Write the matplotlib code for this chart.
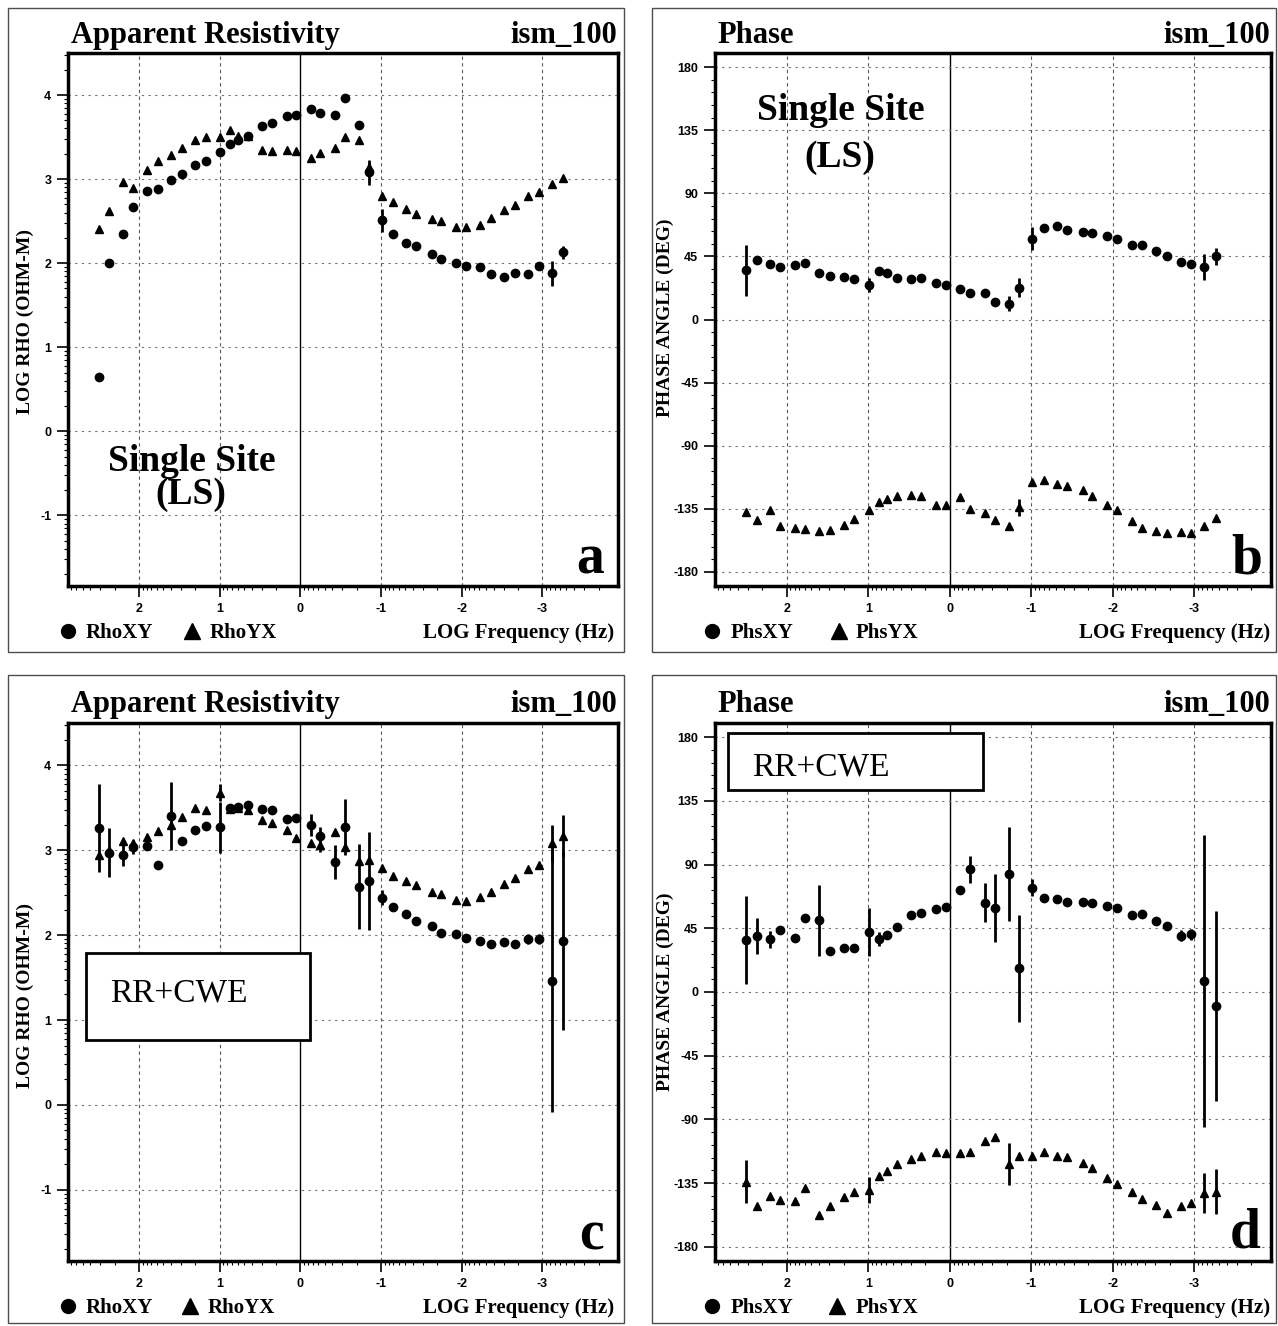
import numpy as np
import matplotlib.pyplot as plt
from matplotlib.lines import Line2D
from matplotlib.patches import Rectangle

plt.rcParams['axes.unicode_minus'] = False

W, H = 1278, 1326

# log10 frequency (Hz) of every estimate, high to low
freq = [2.50, 2.37, 2.20, 2.08, 1.90, 1.77, 1.60, 1.47, 1.30, 1.17,
        0.99, 0.87, 0.77, 0.65, 0.47, 0.35, 0.17, 0.05, -0.13, -0.25,
        -0.43, -0.56, -0.73, -0.85, -1.01, -1.15, -1.31, -1.44, -1.63, -1.75,
        -1.93, -2.05, -2.23, -2.36, -2.53, -2.66, -2.83, -2.96, -3.12, -3.26]

# single site (LS) - log apparent resistivity
ls_rhoxy = [0.65, 2.00, 2.35, 2.67, 2.86, 2.88, 2.99, 3.06, 3.17, 3.22,
            3.32, 3.42, 3.47, 3.51, 3.63, 3.67, 3.75, 3.76, 3.83, 3.79,
            3.76, 3.97, 3.64, 3.08, 2.51, 2.35, 2.24, 2.20, 2.11, 2.05,
            2.00, 1.97, 1.95, 1.87, 1.83, 1.88, 1.87, 1.97, 1.88, 2.13]
ls_rhoxy_err = [0, 0, 0, 0, 0, 0, 0, 0, 0, 0,
                0, 0, 0, 0, 0, 0, 0, 0, 0, 0,
                0, 0, 0, 0.15, 0.14, 0, 0, 0, 0, 0,
                0, 0, 0, 0, 0, 0, 0, 0, 0.15, 0.08]
ls_rhoyx = [2.41, 2.62, 2.96, 2.89, 3.11, 3.21, 3.29, 3.37, 3.46, 3.50,
            3.50, 3.58, 3.51, 3.51, 3.35, 3.33, 3.35, 3.33, 3.25, 3.31,
            3.37, 3.50, 3.47, 3.14, 2.80, 2.73, 2.65, 2.58, 2.52, 2.50,
            2.43, 2.43, 2.46, 2.54, 2.63, 2.69, 2.80, 2.85, 2.94, 3.01]
ls_rhoyx_err = [0] * 40

# single site (LS) - phase
ls_phsxy = [35.0, 42.7, 39.9, 37.5, 38.7, 40.6, 33.2, 30.8, 30.4, 29.2,
            24.9, 34.6, 33.2, 29.9, 29.2, 29.9, 26.1, 24.4, 22.0, 19.0,
            19.0, 12.5, 11.4, 22.8, 57.7, 65.3, 66.7, 64.1, 62.4, 61.9,
            59.6, 57.7, 53.4, 53.4, 48.9, 45.3, 41.0, 39.9, 37.5, 45.1]
ls_phsxy_err = [18, 0, 0, 0, 0, 0, 0, 0, 0, 0,
                5, 0, 0, 0, 0, 0, 0, 0, 0, 0,
                0, 0, 5, 7, 8, 0, 0, 0, 0, 0,
                0, 0, 0, 0, 0, 0, 0, 0, 9, 6]
ls_phsyx = [-137.3, -142.7, -136.1, -147.1, -149.0, -149.4, -150.6, -150.1, -146.2, -142.4,
            -136.1, -130.3, -127.9, -126.1, -125.1, -126.1, -132.1, -132.6, -126.8, -135.0,
            -137.8, -143.1, -147.1, -133.8, -115.6, -114.6, -117.4, -118.6, -121.6, -125.6,
            -132.6, -136.1, -143.8, -148.3, -150.6, -152.0, -151.3, -152.5, -147.3, -141.5]
ls_phsyx_err = [0] * 23 + [6] + [0] * 16

# remote reference + CWE - log apparent resistivity
rr_rhoxy = [3.26, 2.97, 2.94, 3.04, 3.05, 2.83, 3.40, 3.11, 3.24, 3.29,
            3.27, 3.50, 3.51, 3.53, 3.49, 3.47, 3.37, 3.38, 3.30, 3.17,
            2.86, 3.27, 2.57, 2.64, 2.44, 2.33, 2.25, 2.17, 2.11, 2.03,
            2.01, 1.97, 1.93, 1.89, 1.92, 1.90, 1.95, 1.95, 1.46, 1.93]
rr_rhoxy_err = [0.52, 0.29, 0.13, 0.08, 0, 0, 0.40, 0, 0, 0,
                0.30, 0, 0, 0, 0, 0, 0, 0, 0.13, 0.10,
                0.20, 0.33, 0.50, 0.58, 0.09, 0, 0, 0, 0, 0,
                0, 0, 0, 0, 0, 0, 0.06, 0.06, 1.55, 1.05]
rr_rhoyx = [2.95, 3.00, 3.11, 3.09, 3.16, 3.23, 3.30, 3.39, 3.50, 3.48,
            3.68, 3.49, 3.50, 3.47, 3.36, 3.32, 3.24, 3.14, 3.08, 3.06,
            3.22, 3.04, 2.87, 2.88, 2.79, 2.70, 2.64, 2.59, 2.51, 2.48,
            2.42, 2.40, 2.45, 2.51, 2.60, 2.67, 2.78, 2.83, 3.08, 3.17]
rr_rhoyx_err = [0, 0, 0, 0, 0, 0, 0, 0, 0, 0,
                0.10, 0, 0, 0, 0, 0, 0, 0, 0, 0.08,
                0, 0, 0, 0, 0, 0, 0, 0, 0, 0,
                0, 0, 0, 0, 0, 0, 0, 0, 0.22, 0.25]

# remote reference + CWE - phase
rr_phsxy = [36.5, 39.6, 37.3, 43.8, 38.4, 52.5, 50.6, 28.9, 31.3, 31.3,
            42.6, 37.3, 40.3, 46.0, 54.2, 56.1, 58.5, 60.1, 71.9, 86.8,
            63.2, 59.0, 83.5, 16.7, 73.8, 66.2, 65.8, 63.9, 63.4, 63.2,
            61.0, 59.1, 54.4, 55.1, 50.4, 46.8, 39.7, 40.7, 7.7, -9.8]
rr_phsxy_err = [31, 13, 6, 0, 0, 0, 25, 0, 0, 0,
                17, 5, 0, 0, 0, 0, 0, 0, 0, 9.5,
                13.5, 24, 33, 38, 6, 0, 0, 0, 0, 0,
                0, 0, 0, 0, 0, 0, 4, 4, 103, 67]
rr_phsyx = [-133.9, -151.5, -143.8, -146.8, -147.3, -138.6, -157.8, -151.5, -144.9, -141.0,
            -139.8, -129.7, -126.2, -121.8, -118.3, -115.7, -112.9, -113.6, -114.0, -112.9,
            -105.1, -102.3, -121.5, -115.7, -115.7, -113.3, -115.9, -116.8, -120.6, -124.6,
            -131.1, -135.6, -141.4, -146.3, -150.3, -156.0, -151.5, -148.7, -142.1, -141.0]
rr_phsyx_err = [15, 0, 0, 0, 0, 0, 0, 0, 0, 0,
                9, 0, 0, 0, 0, 0, 0, 0, 0, 0,
                0, 0, 14.5, 0, 0, 0, 0, 0, 0, 0,
                0, 0, 0, 0, 0, 0, 0, 0, 14, 16]

x_ticks = [2, 1, 0, -1, -2, -3]
rho_ticks = [4, 3, 2, 1, 0, -1]
phs_ticks = [180, 135, 90, 45, 0, -45, -90, -135, -180]

SERIF = 'Liberation Serif'
SANS = 'Liberation Sans'

fig = plt.figure(figsize=(W / 100, H / 100), dpi=100)


def fx(x):
    return x / W


def fy(y):
    return 1 - y / H


def add_axes(left, top, right, bottom):
    return fig.add_axes([fx(left), fy(bottom), (right - left) / W, (bottom - top) / H])


def setup(ax, kind):
    ax.set_xlim(2.88, -3.94)
    if kind == 'rho':
        ax.set_ylim(-1.84, 4.5)
        yt = rho_ticks
        minors = [n + np.log10(k) for n in range(-2, 5) for k in range(2, 10)]
        minors = [m for m in minors if -1.84 < m < 4.5]
    else:
        ax.set_ylim(-190, 190)
        yt = phs_ticks
        minors = [m for m in range(-180, 181, 9) if m % 45 != 0]
    ax.set_yticks(yt, labels=[str(t) for t in yt], fontsize=9,
                  fontweight='bold', family=SANS)
    ax.set_yticks(minors, minor=True)
    ax.set_xticks(x_ticks, labels=[str(t) for t in x_ticks], fontsize=9,
                  fontweight='bold', family=SANS)
    xmin = [d + np.log10(k) for d in range(-4, 3) for k in range(2, 10)]
    ax.set_xticks([m for m in xmin if -3.94 < m < 2.88], minor=True)
    ax.tick_params(which='major', direction='out', length=8, width=1.2, pad=4)
    ax.tick_params(which='minor', direction='out', length=3, width=0.8)
    for s in ax.spines.values():
        s.set_linewidth(2.5)
    for t in x_ticks:
        if t == 0:
            ax.axvline(t, color='k', lw=1.0, zorder=1)
        else:
            ax.axvline(t, color='0.35', lw=0.8, ls=(0, (3, 3)), zorder=1)
    for t in yt:
        ax.axhline(t, color='0.45', lw=0.8, ls=(0, (2, 4)), zorder=1)


def draw(ax, xy, xy_err, yx, yx_err):
    ax.errorbar(freq, xy, yerr=xy_err, fmt='o', ms=6, color='k',
                elinewidth=2, capsize=0, zorder=3)
    ax.errorbar(freq, yx, yerr=yx_err, fmt='^', ms=6, color='k',
                elinewidth=2, capsize=0, zorder=3)


ax_a = add_axes(68, 53, 618, 586)
ax_b = add_axes(715, 53, 1271, 586)
ax_c = add_axes(68, 723, 618, 1261)
ax_d = add_axes(715, 723, 1271, 1261)

setup(ax_a, 'rho')
setup(ax_b, 'phs')
setup(ax_c, 'rho')
setup(ax_d, 'phs')

draw(ax_a, ls_rhoxy, ls_rhoxy_err, ls_rhoyx, ls_rhoyx_err)
draw(ax_b, ls_phsxy, ls_phsxy_err, ls_phsyx, ls_phsyx_err)
draw(ax_c, rr_rhoxy, rr_rhoxy_err, rr_rhoyx, rr_rhoyx_err)
draw(ax_d, rr_phsxy, rr_phsxy_err, rr_phsyx, rr_phsyx_err)

# outer panel borders
for (l, t, r, b) in [(8, 8, 624, 652), (652, 8, 1276, 652),
                     (8, 675, 624, 1323), (652, 675, 1276, 1323)]:
    fig.add_artist(Rectangle((fx(l), fy(b)), (r - l) / W, (b - t) / H,
                             transform=fig.transFigure, fill=False,
                             ec='0.3', lw=1.0))


def ftext(x, y, s, **kw):
    fig.text(fx(x), fy(y), s, va='baseline', **kw)


# titles
for top, left_px, left_title, right_px in [(43, 71, 'Apparent Resistivity', 617),
                                           (43, 717, 'Phase', 1270),
                                           (712, 71, 'Apparent Resistivity', 617),
                                           (712, 717, 'Phase', 1270)]:
    ftext(left_px, top, left_title, fontsize=22, fontweight='bold', family=SERIF)
    ftext(right_px, top, 'ism_100', fontsize=22, fontweight='bold', family=SERIF,
          ha='right')

# y labels
fig.text(fx(25), fy(322), 'LOG RHO (OHM-M)', rotation=90, ha='center', va='center',
         fontsize=14, fontweight='bold', family=SERIF)
fig.text(fx(25), fy(995), 'LOG RHO (OHM-M)', rotation=90, ha='center', va='center',
         fontsize=14, fontweight='bold', family=SERIF)
fig.text(fx(665), fy(318), 'PHASE ANGLE (DEG)', rotation=90, ha='center', va='center',
         fontsize=14, fontweight='bold', family=SERIF)
fig.text(fx(665), fy(992), 'PHASE ANGLE (DEG)', rotation=90, ha='center', va='center',
         fontsize=14, fontweight='bold', family=SERIF)

# bottom legends
for base, xs, names in [(638, (68, 86, 192, 210), ('RhoXY', 'RhoYX')),
                        (638, (712, 731, 839, 856), ('PhsXY', 'PhsYX')),
                        (1313, (68, 86, 190, 208), ('RhoXY', 'RhoYX')),
                        (1313, (712, 731, 837, 856), ('PhsXY', 'PhsYX'))]:
    fig.add_artist(Line2D([fx(xs[0])], [fy(base - 7)], marker='o', ms=10, color='k',
                          transform=fig.transFigure))
    fig.add_artist(Line2D([fx(xs[2])], [fy(base - 7)], marker='^', ms=11, color='k',
                          transform=fig.transFigure))
    ftext(xs[1], base, names[0], fontsize=15, fontweight='bold', family=SERIF)
    ftext(xs[3], base, names[1], fontsize=15, fontweight='bold', family=SERIF)

for base, right in [(638, 614), (638, 1270), (1313, 614), (1313, 1270)]:
    ftext(right, base, 'LOG Frequency (Hz)', fontsize=15, fontweight='bold',
          family=SERIF, ha='right')

# panel letters
for s, right, base in [('a', 604, 574), ('b', 1262, 573), ('c', 604, 1249), ('d', 1261, 1247)]:
    ftext(right, base, s, fontsize=40, fontweight='bold', family=SERIF, ha='right')

# annotations
ftext(192, 471, 'Single Site', fontsize=27, fontweight='bold', family=SERIF, ha='center')
ftext(191, 504, '(LS)', fontsize=27, fontweight='bold', family=SERIF, ha='center')
ftext(841, 120, 'Single Site', fontsize=27, fontweight='bold', family=SERIF, ha='center')
ftext(840, 167, '(LS)', fontsize=27, fontweight='bold', family=SERIF, ha='center')

for (l, t, r, b), tx, base in [((86, 953, 310, 1040), 110, 1002),
                              ((728, 733, 983, 790), 752, 776)]:
    fig.add_artist(Rectangle((fx(l), fy(b)), (r - l) / W, (b - t) / H,
                             transform=fig.transFigure, fc='white', ec='k', lw=2,
                             zorder=5))
    fig.text(fx(tx), fy(base), 'RR+CWE', va='baseline', fontsize=24, family=SERIF,
             zorder=6)

fig.savefig('out.png', dpi=100, facecolor='white')
